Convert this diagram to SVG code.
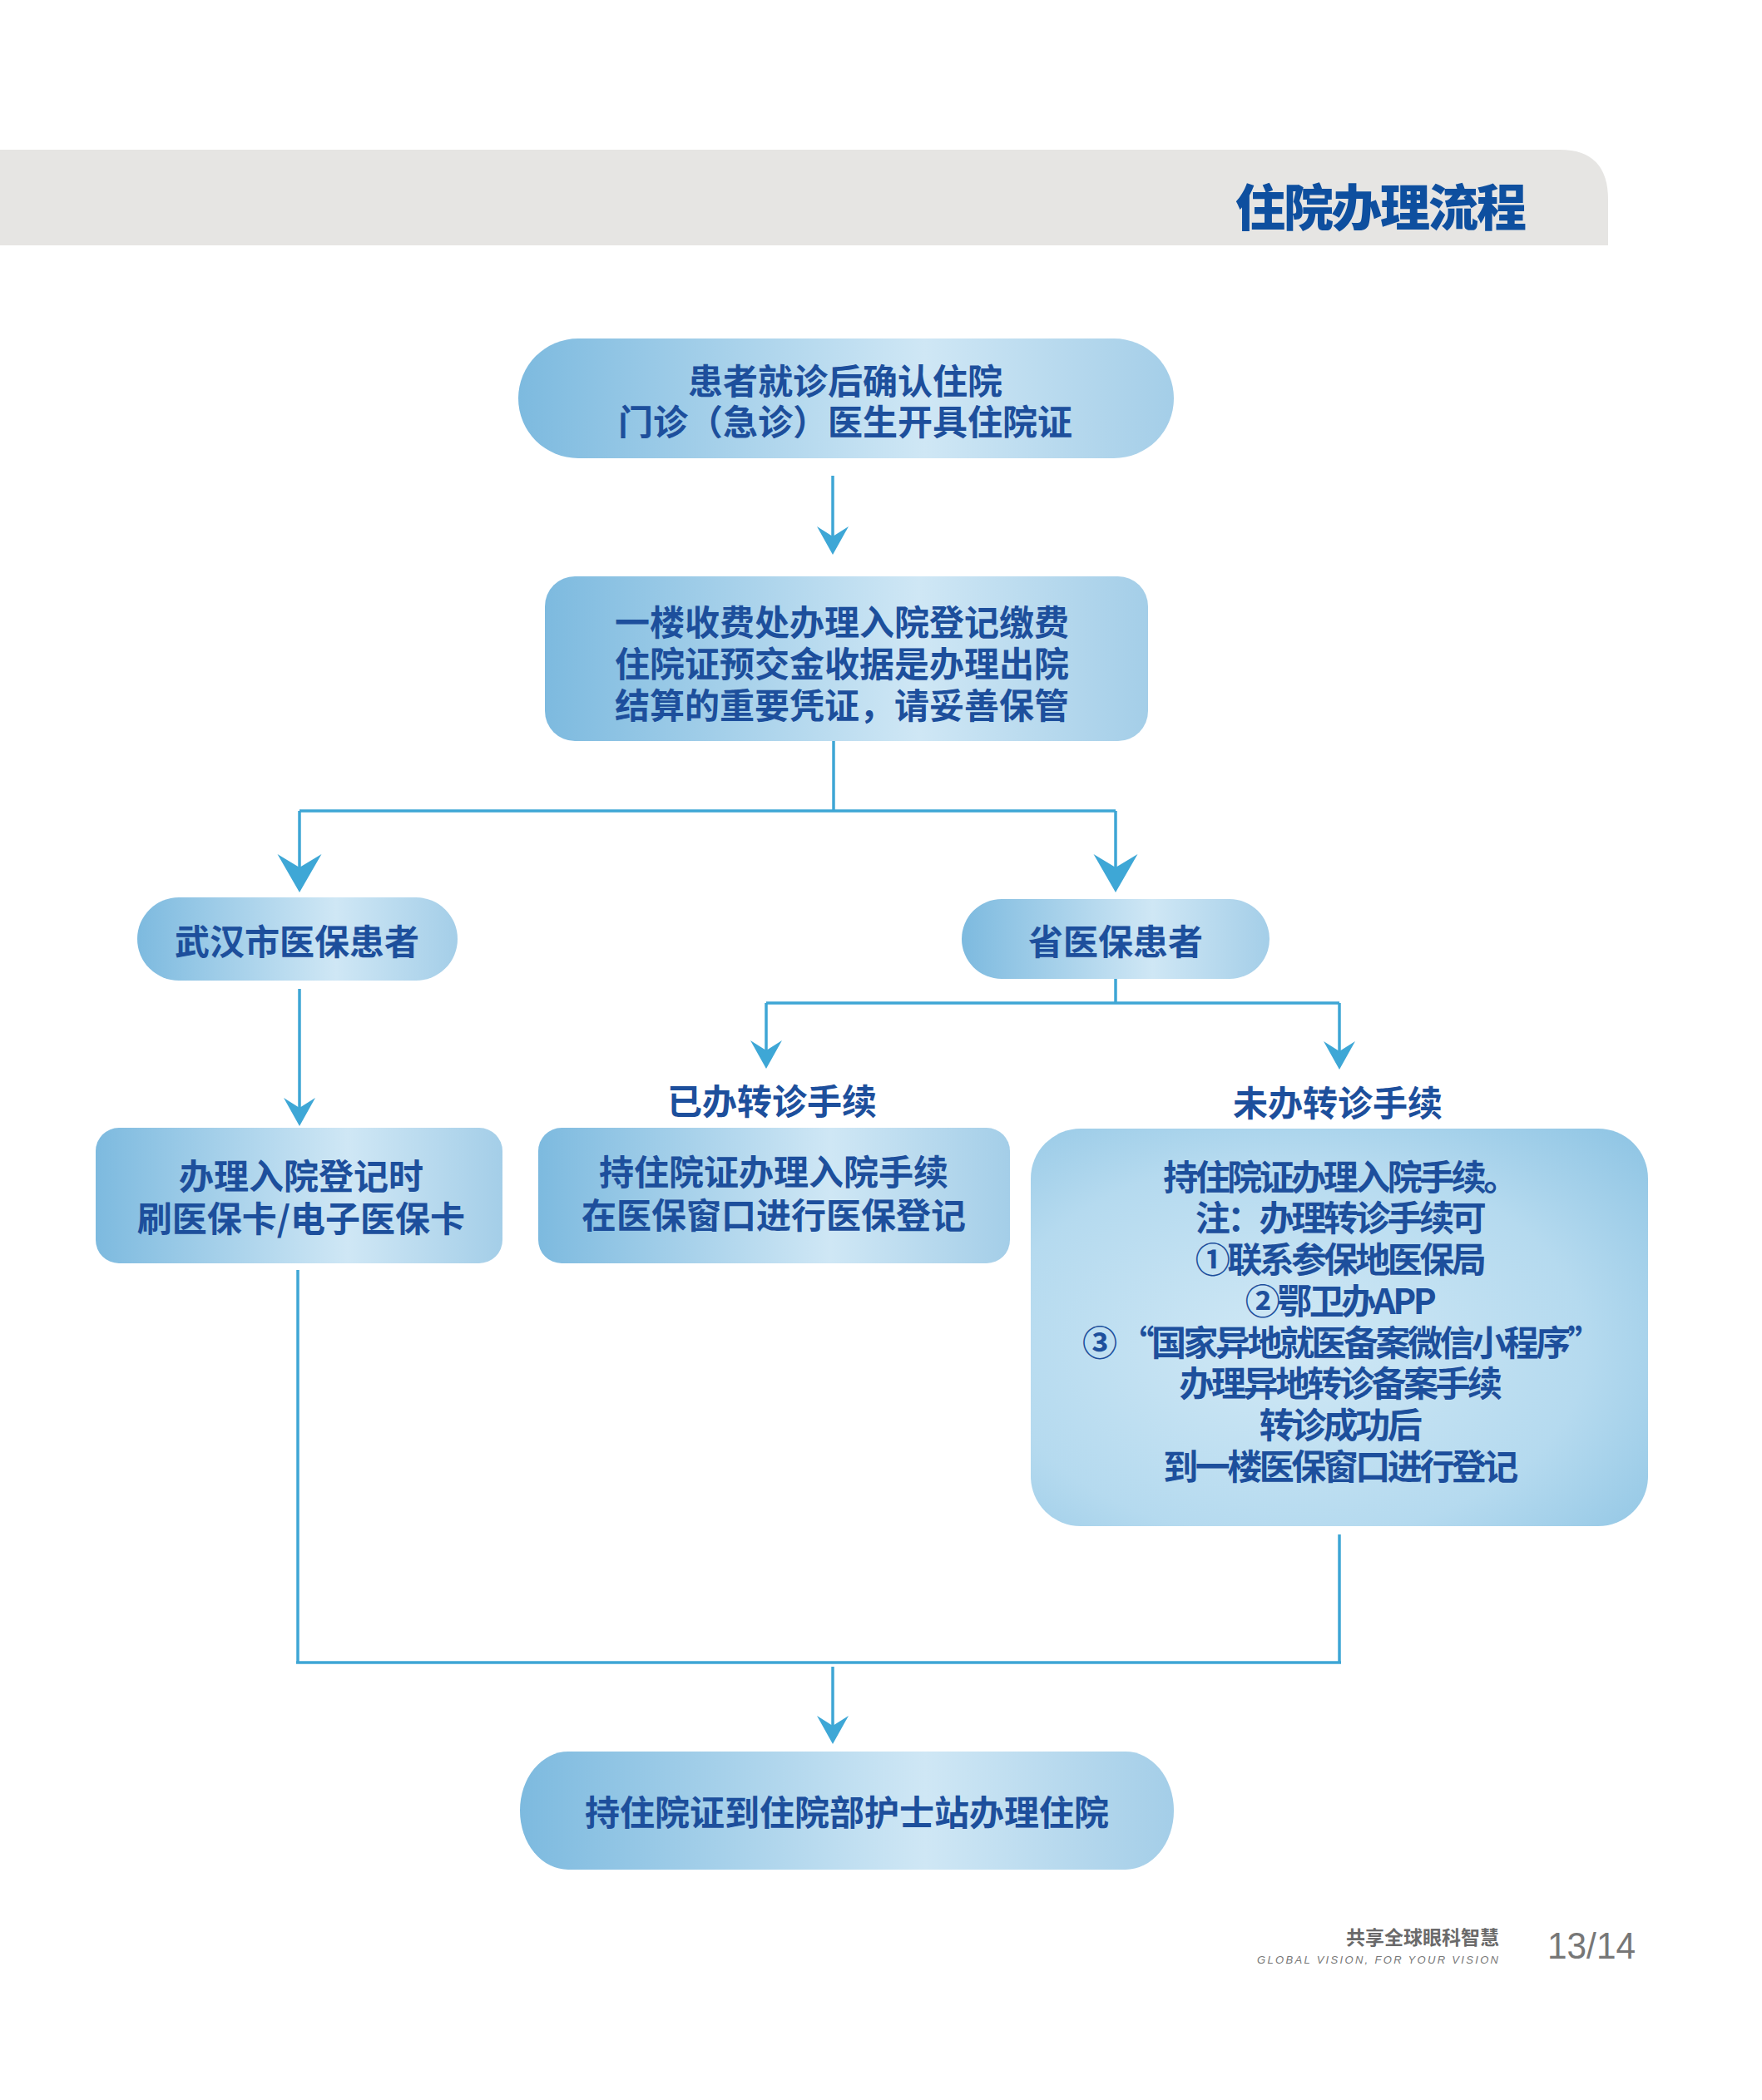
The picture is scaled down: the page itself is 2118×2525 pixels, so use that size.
<svg xmlns="http://www.w3.org/2000/svg" width="2118" height="2525" viewBox="0 0 2118 2525">
<defs>
<style>
.nt{font-family:"Noto Sans CJK SC","Noto Sans",sans-serif;font-weight:700;font-size:42px;fill:#1d4f9c;text-anchor:middle;dominant-baseline:central}
.bt{letter-spacing:-3.5px}
.ln{fill:none;stroke:#3ea6d5;stroke-width:3.5}
</style>
<linearGradient id="nodeFill" x1="0" y1="0" x2="1" y2="0">
<stop offset="0" stop-color="#7dbadf"/>
<stop offset="0.62" stop-color="#cfe7f5"/>
<stop offset="1" stop-color="#a4cee8"/>
</linearGradient>
<radialGradient id="bigFill" cx="0.42" cy="0.55" r="0.8">
<stop offset="0" stop-color="#d0e8f5"/>
<stop offset="0.6" stop-color="#b5daef"/>
<stop offset="1" stop-color="#8cc3e3"/>
</radialGradient>
<linearGradient id="gA" gradientUnits="userSpaceOnUse" x1="0" y1="572" x2="0" y2="667">
<stop offset="0" stop-color="#3ba3d3"/><stop offset="0.5" stop-color="#cfe8f5"/><stop offset="1" stop-color="#3ba3d3"/>
</linearGradient>
<linearGradient id="gB" gradientUnits="userSpaceOnUse" x1="360" y1="0" x2="1341" y2="0">
<stop offset="0" stop-color="#3ba3d3"/><stop offset="0.55" stop-color="#cde6f3"/><stop offset="1" stop-color="#3ba3d3"/>
</linearGradient>
<linearGradient id="gC" gradientUnits="userSpaceOnUse" x1="0" y1="1189" x2="0" y2="1354">
<stop offset="0" stop-color="#3ba3d3"/><stop offset="0.5" stop-color="#cfe8f5"/><stop offset="1" stop-color="#3ba3d3"/>
</linearGradient>
<linearGradient id="gD" gradientUnits="userSpaceOnUse" x1="921" y1="0" x2="1610" y2="0">
<stop offset="0" stop-color="#3ba3d3"/><stop offset="0.5" stop-color="#cde6f3"/><stop offset="1" stop-color="#3ba3d3"/>
</linearGradient>
<linearGradient id="gE" gradientUnits="userSpaceOnUse" x1="358" y1="0" x2="1610" y2="0">
<stop offset="0" stop-color="#3ba3d3"/><stop offset="0.5" stop-color="#a8d4ec"/><stop offset="1" stop-color="#3ba3d3"/>
</linearGradient>
<linearGradient id="gF" gradientUnits="userSpaceOnUse" x1="0" y1="2004" x2="0" y2="2097">
<stop offset="0" stop-color="#3ba3d3"/><stop offset="0.5" stop-color="#cfe8f5"/><stop offset="1" stop-color="#3ba3d3"/>
</linearGradient>
<marker id="ahS" markerUnits="userSpaceOnUse" viewBox="-40 -25 50 50" markerWidth="50" markerHeight="50" refX="-14" refY="0" orient="auto" overflow="visible">
<path d="M0,0 L-34,-19 L-22,0 L-34,19 Z" fill="#3ea7d6"/>
</marker>
<marker id="ahB" markerUnits="userSpaceOnUse" viewBox="-50 -30 60 60" markerWidth="60" markerHeight="60" refX="-16" refY="0" orient="auto" overflow="visible">
<path d="M0,0 L-46,-26.5 L-30,0 L-46,26.5 Z" fill="#3ea7d6"/>
</marker>
</defs>
<rect width="2118" height="2525" fill="#ffffff"/>
<g id="header">
<path d="M0,180 H1875 Q1933,180 1933,240 V295 H0 Z" fill="#e6e5e3"/>
<text x="1659" y="245" font-family="Noto Sans CJK SC,sans-serif" font-weight="900" font-size="60" fill="#0e4f9f" text-anchor="middle" dominant-baseline="central" letter-spacing="-2">住院办理流程</text>
</g>
<g id="connectors">
<path class="ln" d="M1001,572 V653" stroke="url(#gA)" marker-end="url(#ahS)"/>
<path class="ln" d="M1002,891 V975"/>
<path class="ln" d="M360,975 H1341" stroke="url(#gB)"/>
<path class="ln" d="M360,975 V1057" marker-end="url(#ahB)"/>
<path class="ln" d="M1341,975 V1057" marker-end="url(#ahB)"/>
<path class="ln" d="M360,1189 V1340" stroke="url(#gC)" marker-end="url(#ahS)"/>
<path class="ln" d="M1341,1177 V1206"/>
<path class="ln" d="M921,1206 H1610" stroke="url(#gD)"/>
<path class="ln" d="M921,1206 V1271" marker-end="url(#ahS)"/>
<path class="ln" d="M1610,1206 V1272" marker-end="url(#ahS)"/>
<path class="ln" d="M358,1527 V1999"/>
<path class="ln" d="M1610,1845 V1999"/>
<path class="ln" d="M356,1999 H1612" stroke="url(#gE)" stroke-width="4.5"/>
<path class="ln" d="M1001,2004 V2083" stroke="url(#gF)" marker-end="url(#ahS)"/>
</g>
<g id="n1">
<rect x="623" y="407" width="788" height="144" rx="72" fill="url(#nodeFill)"/>
<text class="nt"><tspan x="1016" y="455">患者就诊后确认住院</tspan><tspan x="1016" y="504">门诊（急诊）医生开具住院证</tspan></text>
</g>
<g id="n2">
<rect x="655" y="693" width="725" height="198" rx="36" fill="url(#nodeFill)"/>
<text class="nt"><tspan x="1012" y="745">一楼收费处办理入院登记缴费</tspan><tspan x="1012" y="795">住院证预交金收据是办理出院</tspan><tspan x="1012" y="845">结算的重要凭证，请妥善保管</tspan></text>
</g>
<g id="n3">
<rect x="165" y="1079" width="385" height="100" rx="50" fill="url(#nodeFill)"/>
<text class="nt" x="357" y="1129">武汉市医保患者</text>
</g>
<g id="n4">
<rect x="1156" y="1081" width="370" height="96" rx="48" fill="url(#nodeFill)"/>
<text class="nt" x="1341" y="1129">省医保患者</text>
</g>
<g id="lbl1">
<text class="nt" x="928" y="1321">已办转诊手续</text>
</g>
<g id="lbl2">
<text class="nt" x="1608" y="1323">未办转诊手续</text>
</g>
<g id="n5">
<rect x="115" y="1356" width="489" height="163" rx="28" fill="url(#nodeFill)"/>
<text class="nt"><tspan x="362" y="1411">办理入院登记时</tspan><tspan x="362" y="1462">刷医保卡/电子医保卡</tspan></text>
</g>
<g id="n6">
<rect x="647" y="1356" width="567" height="163" rx="28" fill="url(#nodeFill)"/>
<text class="nt"><tspan x="930" y="1406">持住院证办理入院手续</tspan><tspan x="930" y="1458">在医保窗口进行医保登记</tspan></text>
</g>
<g id="n7">
<rect x="1239" y="1357" width="742" height="478" rx="60" fill="url(#bigFill)"/>
<text class="nt bt"><tspan x="1610" y="1412">持住院证办理入院手续。</tspan><tspan x="1610" y="1461">注：办理转诊手续可</tspan><tspan x="1610" y="1511">①联系参保地医保局</tspan><tspan x="1610" y="1561">②鄂卫办APP</tspan><tspan x="1612" y="1611">③ “国家异地就医备案微信小程序”</tspan><tspan x="1610" y="1660">办理异地转诊备案手续</tspan><tspan x="1610" y="1710">转诊成功后</tspan><tspan x="1610" y="1760">到一楼医保窗口进行登记</tspan></text>
</g>
<g id="n8">
<rect x="625" y="2106" width="786" height="142" rx="58" ry="71" fill="url(#nodeFill)"/>
<text class="nt" x="1018" y="2176">持住院证到住院部护士站办理住院</text>
</g>
<g id="footer">
<text x="1802" y="2338" font-family="Noto Sans CJK SC,sans-serif" font-weight="700" font-size="23" fill="#6a6a6a" text-anchor="end">共享全球眼科智慧</text>
<text x="1511" y="2361" font-family="Liberation Sans,sans-serif" font-style="italic" font-size="13" fill="#777777" textLength="290" lengthAdjust="spacing">GLOBAL VISION, FOR YOUR VISION</text>
<text x="1860" y="2355" font-family="Liberation Sans,sans-serif" font-size="44" fill="#777777" textLength="106" lengthAdjust="spacingAndGlyphs">13/14</text>
</g>
</svg>
